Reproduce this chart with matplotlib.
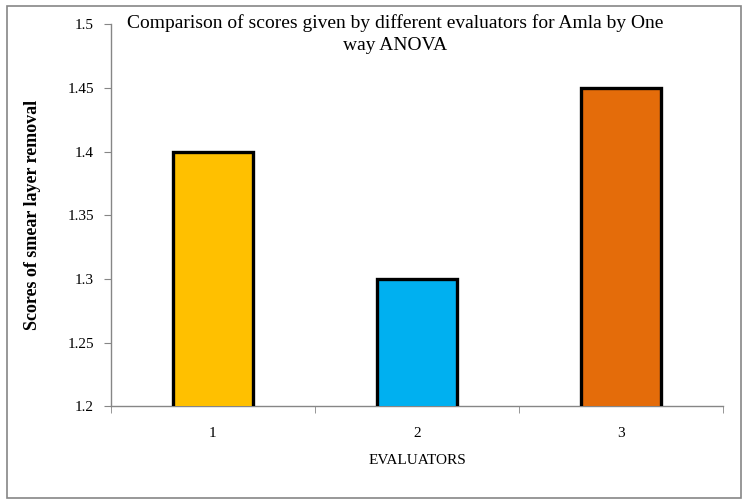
import matplotlib.pyplot as plt
from matplotlib.patches import Rectangle

evaluators = ["1", "2", "3"]
scores = [1.40, 1.30, 1.45]
colors = ["#FFC000", "#00B0F0", "#E46C0A"]
yticks = [1.2, 1.25, 1.3, 1.35, 1.4, 1.45, 1.5]

plt.rcParams['font.family'] = ['Liberation Serif', 'DejaVu Serif']

fig = plt.figure(figsize=(7.48, 5.04), dpi=100)
ax = fig.add_axes([0.148, 0.194, 0.819, 0.758])

x = list(range(1, len(evaluators) + 1))
ax.bar(x, scores, width=0.39, color=colors, edgecolor="black", linewidth=2.4, zorder=3)

ax.set_ylim(1.2, 1.5)
ax.set_xlim(0.5, 3.5)
ax.set_yticks(yticks)
ax.set_yticklabels([f"{t:g}" for t in yticks], fontsize=11)
ax.set_xticks(x)
ax.set_xticklabels(evaluators, fontsize=11)
ax.set_xticks([0.5, 1.5, 2.5, 3.5], minor=True)
ax.tick_params(axis="x", which="major", length=0, pad=15)
ax.tick_params(axis="x", which="minor", length=5, color="#868686", direction="out")
ax.tick_params(axis="y", length=5, color="#868686", direction="out", pad=7)

for s in ["top", "right"]:
    ax.spines[s].set_visible(False)
for s in ["left", "bottom"]:
    ax.spines[s].set_color("#868686")
    ax.spines[s].set_linewidth(1)

ax.set_xlabel("EVALUATORS", fontsize=11, labelpad=10)
ax.set_ylabel("Scores of smear layer removal", fontsize=13, fontweight="bold")
ax.yaxis.set_label_coords(-0.113, 0.5)

fig.text(0.528, 0.972, "Comparison of scores given by different evaluators for Amla by One\nway ANOVA",
         ha="center", va="top", fontsize=14, linespacing=1.35)

fig.patches.append(Rectangle((0.009, 0.012), 0.982, 0.976, transform=fig.transFigure,
                             fill=False, edgecolor="#868686", linewidth=1.2))

fig.savefig("out.png", dpi=100)
